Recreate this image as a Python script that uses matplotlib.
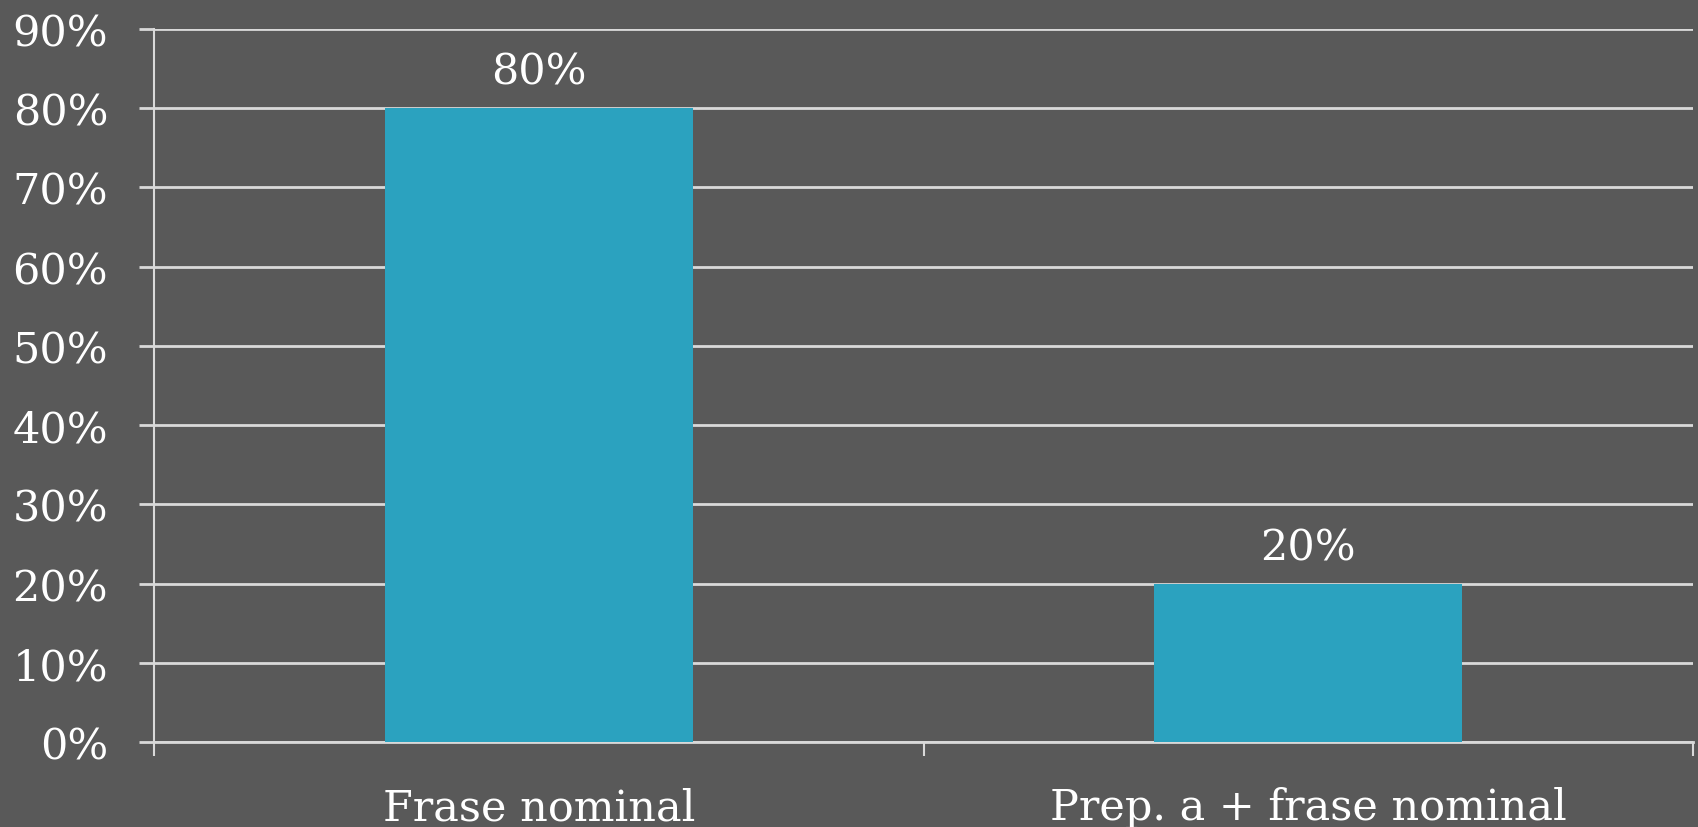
import matplotlib
matplotlib.use("Agg")
import matplotlib.pyplot as plt
from matplotlib.ticker import FixedLocator

categories = ["Frase nominal", "Prep. a + frase nominal"]
values = [80, 20]
value_labels = ["80%", "20%"]
y_ticks = [0, 10, 20, 30, 40, 50, 60, 70, 80, 90]

bg = "#595959"
grid_col = "#d9d9d9"
bar_col = "#2ba2bf"

plt.rcParams["font.family"] = ["DejaVu Serif"]

fig = plt.figure(figsize=(16.98, 8.28), dpi=100, facecolor=bg)
ax = fig.add_axes([154 / 1698, 85 / 828, 1539 / 1698, 713 / 828])
ax.set_facecolor(bg)

x = list(range(len(categories)))
ax.bar(x, values, width=0.4, color=bar_col, zorder=3)
for xi, v, lab in zip(x, values, value_labels):
    ax.annotate(lab, (xi, v), xytext=(0, 11), textcoords="offset points",
                ha="center", va="bottom", color="white", fontsize=31)

ax.set_xlim(-0.5, len(categories) - 0.5)
ax.set_ylim(0, 90)
ax.set_yticks(y_ticks)
ax.set_yticklabels(["%d%%" % t for t in y_ticks])
ax.set_xticks(x)
ax.set_xticklabels(categories)
ax.xaxis.set_minor_locator(FixedLocator([-0.5, 0.5, 1.5]))

ax.yaxis.grid(True, color=grid_col, linewidth=2, zorder=1)
for s in ["top", "right"]:
    ax.spines[s].set_visible(False)
ax.spines["left"].set_color(grid_col)
ax.spines["left"].set_linewidth(1.5)
ax.spines["bottom"].set_color(grid_col)
ax.spines["bottom"].set_linewidth(2)

ax.tick_params(axis="y", length=11, width=2, color=grid_col, labelcolor="white",
               labelsize=31, pad=22)
ax.tick_params(axis="x", which="major", length=0, labelcolor="white",
               labelsize=31, pad=32)
ax.tick_params(axis="x", which="minor", length=10, width=1.5, color=grid_col)

fig.savefig("out.png", dpi=100, facecolor=bg)
